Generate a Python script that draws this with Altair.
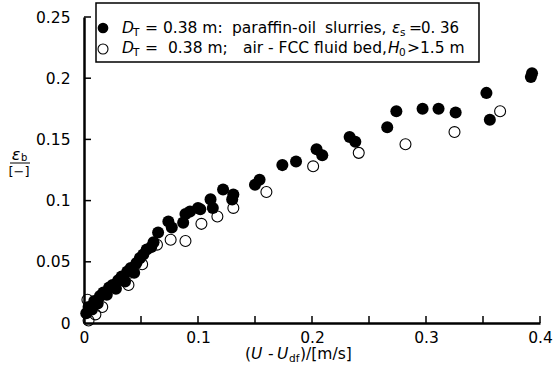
import altair as alt
import pandas as pd

# ---- data ----
slurry_x = [0.002, 0.004, 0.007, 0.009, 0.012, 0.014, 0.017, 0.020, 0.022, 0.025, 0.028,
            0.030, 0.033, 0.036, 0.038, 0.041, 0.044, 0.046, 0.049, 0.052, 0.055,
            0.059, 0.061, 0.065, 0.074, 0.077, 0.087, 0.089, 0.093, 0.100, 0.102,
            0.111, 0.113, 0.122, 0.131, 0.130, 0.150, 0.154, 0.174, 0.186, 0.204,
            0.209, 0.233, 0.238, 0.266, 0.274, 0.297, 0.311, 0.326, 0.353, 0.356,
            0.393, 0.392]
slurry_y = [0.008, 0.013, 0.011, 0.018, 0.016, 0.022, 0.025, 0.023, 0.029, 0.031, 0.028,
            0.035, 0.038, 0.034, 0.042, 0.045, 0.041, 0.049, 0.053, 0.056, 0.060,
            0.062, 0.066, 0.074, 0.083, 0.078, 0.082, 0.089, 0.091, 0.094, 0.093,
            0.101, 0.094, 0.109, 0.105, 0.101, 0.113, 0.117, 0.129, 0.132, 0.142,
            0.137, 0.152, 0.148, 0.160, 0.173, 0.175, 0.175, 0.172, 0.188, 0.166,
            0.204, 0.201]

fcc_x = [0.004, 0.003, 0.010, 0.016, 0.039, 0.040, 0.051, 0.064, 0.076, 0.089,
         0.103, 0.117, 0.131, 0.160, 0.201, 0.241, 0.282, 0.325, 0.365]
fcc_y = [0.002, 0.019, 0.007, 0.013, 0.031, 0.041, 0.048, 0.064, 0.068, 0.067,
         0.081, 0.087, 0.094, 0.107, 0.128, 0.139, 0.146, 0.156, 0.173]

x_labels = [0, 0.1, 0.2, 0.3, 0.4]
x_tick_marks = [0.05, 0.1, 0.15, 0.2, 0.25, 0.3, 0.35, 0.4]
y_labels = [0, 0.05, 0.1, 0.15, 0.2, 0.25]
y_tick_marks = [0.05, 0.1, 0.15, 0.2, 0.25]

FONT = "DejaVu Sans"
FS = 15.5
W, H = 456, 306

slurry = pd.DataFrame({"x": slurry_x, "y": slurry_y})
fcc = pd.DataFrame({"x": fcc_x, "y": fcc_y})
xt = pd.DataFrame({"x": x_tick_marks})
yt = pd.DataFrame({"y": y_tick_marks})
one = pd.DataFrame({"k": [0]})

xs = alt.Scale(domain=[0, 0.4], nice=False, zero=False)
ys = alt.Scale(domain=[0, 0.25], nice=False, zero=False)

common_axis = dict(format="~g", title=None, grid=False, ticks=False, tickSize=0,
                   labelFont=FONT, labelFontSize=FS, labelColor="black",
                   domainColor="black", domainWidth=2.5, labelOverlap=False,
                   labelFlush=False, labelBound=False)
x_axis = alt.Axis(values=x_labels, labelPadding=7, **common_axis)
y_axis = alt.Axis(values=y_labels, labelPadding=14, **common_axis)

X = alt.X("x:Q", scale=xs, axis=x_axis)
Y = alt.Y("y:Q", scale=ys, axis=y_axis)

open_pts = alt.Chart(fcc).mark_point(
    shape="circle", filled=False, size=120, stroke="black", strokeWidth=1.1, opacity=1
).encode(x=X, y=Y)

filled_pts = alt.Chart(slurry).mark_circle(size=145, color="black", opacity=1).encode(x=X, y=Y)

x_ticks_layer = alt.Chart(xt).mark_rule(color="black", strokeWidth=1.5).encode(
    x=X, y=alt.value(H), y2=alt.value(H - 7))
y_ticks_layer = alt.Chart(yt).mark_rule(color="black", strokeWidth=1.5).encode(
    y=Y, x=alt.value(0), x2=alt.value(7))


def txt(s, x, y, size=FS, italic=False, align="left"):
    return alt.Chart(one).mark_text(
        text=s, font=FONT, fontSize=size, fontStyle="italic" if italic else "normal",
        align=align, baseline="middle", color="black"
    ).encode(x=alt.value(x), y=alt.value(y))


# legend box (plot origin is at 84,17 in page pixels)
legend_box = alt.Chart(one).mark_rect(fill="white", stroke="black", strokeWidth=1.5).encode(
    x=alt.value(12), x2=alt.value(395), y=alt.value(-14), y2=alt.value(45))
leg_filled = alt.Chart(one).mark_circle(size=115, color="black", opacity=1).encode(
    x=alt.value(19), y=alt.value(11))
leg_open = alt.Chart(one).mark_point(shape="circle", filled=False, size=100, stroke="black",
                                     strokeWidth=1.1, opacity=1).encode(
    x=alt.value(19), y=alt.value(32))

SUB = 10.5
r1, r2 = 11, 31
legend_text = [
    txt("D", 38, r1, italic=True), txt("T", 49, r1 + 5, size=SUB),
    txt("= 0.38 m:", 61, r1), txt("paraffin-oil", 148, r1), txt("slurries,", 241, r1),
    txt("ε", 308, r1, italic=True), txt("s", 316, r1 + 5, size=SUB),
    txt("=", 325, r1), txt("0. 36", 337, r1, size=15),
    txt("D", 38, r2, italic=True), txt("T", 49, r2 + 5, size=SUB),
    txt("=", 61, r2), txt("0.38 m;", 84, r2), txt("air - FCC fluid bed,", 159, r2),
    txt("H", 304, r2, italic=True), txt("0", 315, r2 + 5, size=SUB),
    txt(">", 323, r2), txt("1.5 m", 336, r2),
]

# y-axis title as a fraction
frac_line = alt.Chart(one).mark_rule(color="black", strokeWidth=1).encode(
    x=alt.value(-74), x2=alt.value(-54), y=alt.value(146))
y_title = [
    txt("ε", -68, 138, size=16, italic=True, align="center"),
    txt("b", -63, 141, size=10),
    txt("[−]", -65, 155, size=13, align="center"),
]

# x-axis title
tx = 337
x_title = [
    txt("(", 161, tx), txt("U", 167, tx, italic=True), txt("-", 184, tx),
    txt("U", 193, tx, italic=True), txt("df", 205, tx + 5, size=SUB),
    txt(")/[m/s]", 216, tx),
]

chart = alt.layer(
    open_pts, filled_pts, x_ticks_layer, y_ticks_layer,
    legend_box, leg_filled, leg_open, *legend_text, frac_line, *y_title, *x_title
).properties(
    width=W, height=H, autosize="none",
    padding={"left": 84, "top": 17, "right": 15, "bottom": 48},
    background="white"
).configure_view(stroke=None)

chart.save("out.html", embed_options={"renderer": "svg", "actions": False})
